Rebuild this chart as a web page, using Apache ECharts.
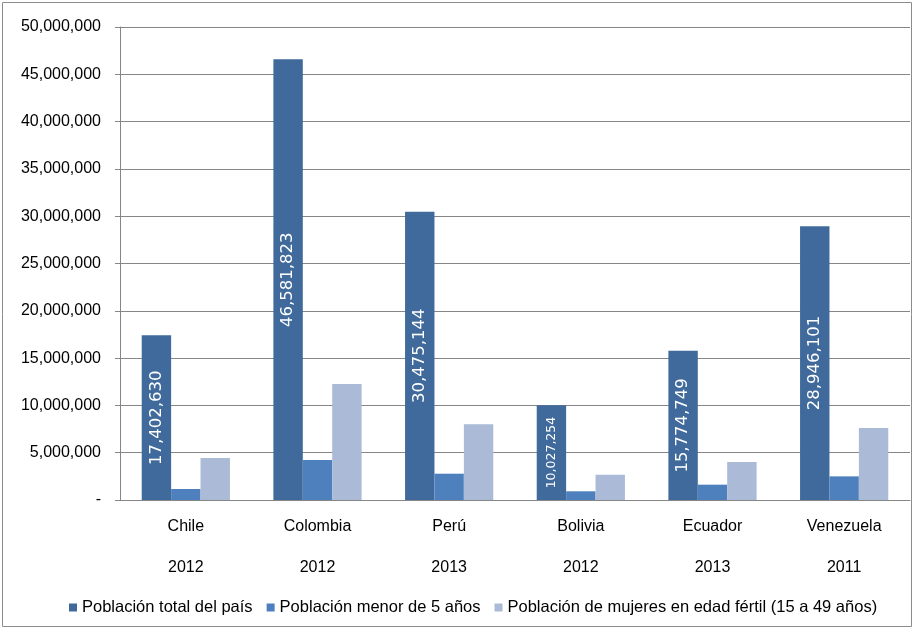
<!DOCTYPE html>
<html><head><meta charset="utf-8">
<script src="https://cdn.jsdelivr.net/npm/echarts@6/dist/echarts.min.js"></script>
<style>html,body{margin:0;padding:0;background:#fff}#c{width:914px;height:629px}</style>
</head><body><div id="c"></div>
<script>
const countries = ['Chile','Colombia','Perú','Bolivia','Ecuador','Venezuela'];
const years = ['2012','2012','2013','2012','2013','2011'];
const seriesNames = ['Población total del país','Población menor de 5 años','Población de mujeres en edad fértil (15 a 49 años)'];
const totalPop = [17402630, 46581823, 30475144, 10027254, 15774749, 28946101];
const under5 = [1160000, 4230000, 2780000, 920000, 1620000, 2500000];
const women = [4440000, 12260000, 8000000, 2670000, 4020000, 7600000];
const colors = ['#3F6A9B','#4E80BD','#AABAD7'];
const fmt = v => Math.round(v).toString().replace(/\B(?=(\d{3})+(?!\d))/g, ',');
const axisFont = '"Liberation Sans Narrow","Liberation Sans",sans-serif';

const chart = echarts.init(document.getElementById('c'));
chart.setOption({
  animation: false,
  graphic: [{type:'rect', shape:{x:2.5,y:2.5,width:909,height:624}, style:{fill:'none', stroke:'#8c8c8c', lineWidth:1}}],
  grid: {left:120, right:4, top:27, bottom:129},
  legend: {
    left: 64, top: 594, itemWidth: 8, itemHeight: 8, itemGap: 14, icon: 'rect',
    textStyle: {fontFamily: axisFont, fontSize: 16.5, color: '#000'},
    data: seriesNames
  },
  xAxis: {
    type: 'category',
    data: countries.map((c,i)=>c+'\n'+years[i]),
    axisLine: {lineStyle:{color:'#868686'}},
    axisTick: {length: 80, lineStyle:{color:'#868686'}},
    axisLabel: {fontFamily: axisFont, fontSize: 16, color:'#000', lineHeight: 41, margin: 6, interval: 0}
  },
  yAxis: {
    type: 'value', min: 0, max: 50000000, interval: 5000000,
    axisLine: {show:true, lineStyle:{color:'#868686'}},
    axisTick: {show:true, length:5, lineStyle:{color:'#868686'}},
    splitLine: {lineStyle:{color:'#868686'}},
    axisLabel: {fontFamily: axisFont, fontSize: 16, color:'#000', margin: 19,
      formatter: v => v === 0 ? '-' : fmt(v)}
  },
  series: [
    {name: seriesNames[0], type:'bar', barGap:'0%', barCategoryGap:'33%',
     itemStyle:{color:colors[0]},
     data: totalPop.map((v,i)=>({value:v, label:{fontSize: i===3 ? 12.5 : 16.5}})),
     label:{show:true, position:'inside', rotate:90, color:'#fff',
       fontFamily:'"DejaVu Sans",sans-serif', formatter: p => fmt(p.value)}},
    {name: seriesNames[1], type:'bar', barGap:'0%', barCategoryGap:'33%',
     itemStyle:{color:colors[1]}, data: under5},
    {name: seriesNames[2], type:'bar', barGap:'0%', barCategoryGap:'33%',
     itemStyle:{color:colors[2]}, data: women}
  ]
});
</script></body></html>
